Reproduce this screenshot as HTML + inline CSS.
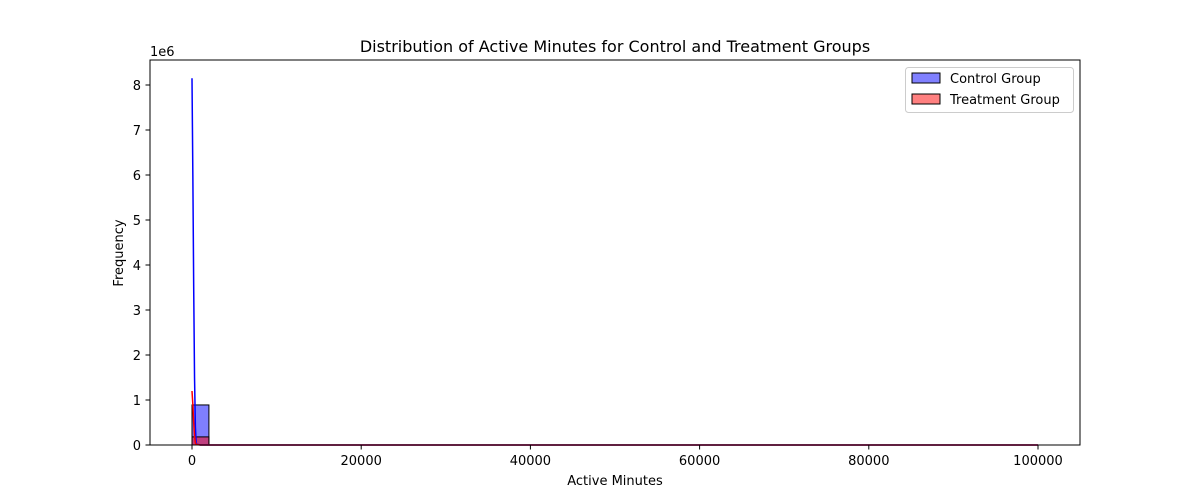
<!DOCTYPE html>
<html><head><meta charset="utf-8"><style>
body{margin:0;background:#fff;font-family:"DejaVu Sans","Liberation Sans",sans-serif;}
svg text{font-family:"DejaVu Sans","Liberation Sans",sans-serif;fill:#000}
</style></head><body>
<svg id="c" width="1200" height="500" xmlns="http://www.w3.org/2000/svg">
<rect width="1200" height="500" fill="#fff"/>
<g id="plot"></g>
<rect x="150" y="60" width="930" height="385" fill="none" stroke="#000" stroke-width="1"/>
<text x="615" y="52" font-size="16" text-anchor="middle">Distribution of Active Minutes for Control and Treatment Groups</text>
<text x="615" y="485" font-size="13" text-anchor="middle">Active Minutes</text>
<text x="123" y="253" font-size="13" text-anchor="middle" transform="rotate(-90 123 253)">Frequency</text>
<text x="150" y="56" font-size="13">1e6</text>
<g>
<rect x="905.5" y="67.5" width="168" height="45" rx="3" fill="#fff" stroke="#ccc"/>
<rect x="912" y="73" width="28" height="10" fill="#8080ff" stroke="#000"/>
<text x="950" y="83" font-size="13">Control Group</text>
<rect x="912" y="94" width="28" height="10" fill="#ff8080" stroke="#000"/>
<text x="950" y="104" font-size="13">Treatment Group</text>
</g>
</svg>
<script>
const binEdges=[0,2000];
const controlCounts=[0.89e6];
const treatmentCounts=[0.18e6];
const kdeX=[0,100,200,300,400,500,1000,100000];
const controlKde=[8.15e6,6.0e6,3.5e6,1.5e6,0.4e6,0.02e6,0,0];
const treatmentKde=[1.2e6,0.9e6,0.5e6,0.2e6,0.05e6,0.01e6,0,0];
const xTicks=[0,20000,40000,60000,80000,100000];
const yTicks=[0,1,2,3,4,5,6,7,8];
const NS="http://www.w3.org/2000/svg";
const xs=v=>192+v*(1038-192)/100000;
const ys=v=>445-v*45/1e6;
const g=document.getElementById('plot');
function mk(t,a){const e=document.createElementNS(NS,t);for(const k in a)e.setAttribute(k,a[k]);g.appendChild(e);return e;}
function bars(counts,fill,name){counts.forEach((c,i)=>{const x0=xs(binEdges[i]),x1=xs(binEdges[i+1]);
const r=mk('rect',{x:x0,y:ys(c),width:x1-x0,height:445-ys(c),fill:fill,stroke:'#000','stroke-width':1});

});}
bars(controlCounts,'rgba(0,0,255,0.5)','control');
bars(treatmentCounts,'rgba(255,0,0,0.5)','treatment');
function line(vals,col,name){const p=mk('polyline',{points:kdeX.map((x,i)=>xs(x)+','+ys(vals[i])).join(' '),fill:'none',stroke:col,'stroke-width':1.5});

}
line(controlKde,'#0000ff','control-kde-line');
line(treatmentKde,'#ff0000','treatment-kde-line');
xTicks.forEach(t=>{const x=xs(t);mk('line',{x1:x,x2:x,y1:445,y2:449.5,stroke:'#000'});
const tx=mk('text',{x:x,y:465,'font-size':13,'text-anchor':'middle'});tx.textContent=t;

});
yTicks.forEach(t=>{const y=ys(t*1e6);mk('line',{x1:145.5,x2:150,y1:y,y2:y,stroke:'#000'});
const tx=mk('text',{x:141,y:y+5,'font-size':13,'text-anchor':'end'});tx.textContent=t;

});
</script>
</body></html>
